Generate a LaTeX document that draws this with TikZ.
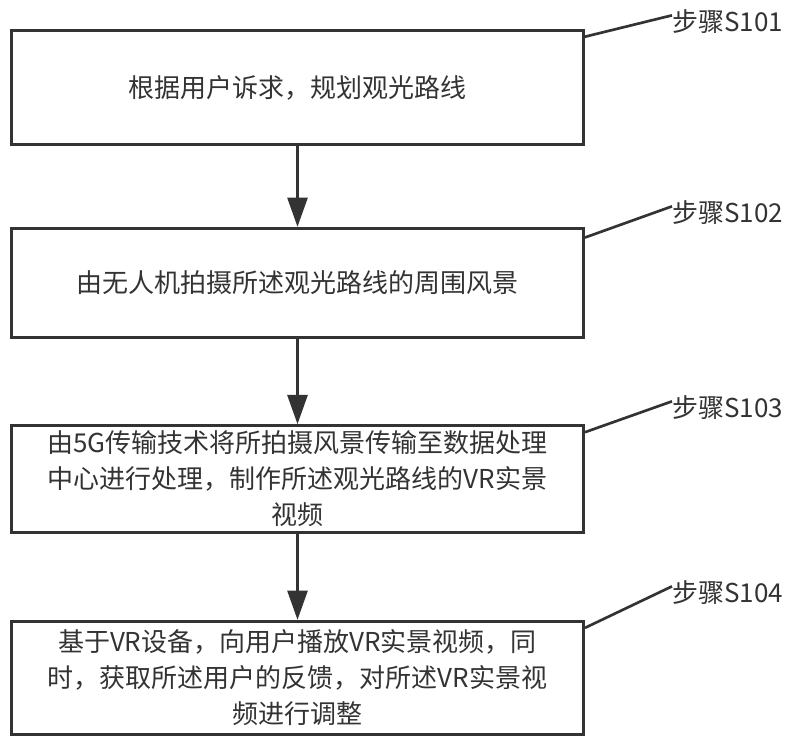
\documentclass[tikz,border=0pt]{standalone}
\usepackage{fontspec}
\setmainfont{Noto Sans CJK SC}
\usetikzlibrary{arrows.meta}
\definecolor{linegray}{HTML}{333333}
\tikzset{
  stepbox/.style={draw=linegray, line width=2.2pt, minimum width=429pt,
    align=center, text=linegray, font=\fontsize{19.5}{27}\selectfont},
  steplabel/.style={anchor=west, inner sep=0pt, text=linegray,
    font=\fontsize{19.5}{24}\selectfont},
  flow/.style={draw=linegray, line width=2.2pt, -{Triangle[length=22pt,width=15pt]}},
  lead/.style={draw=linegray, line width=2pt}
}
\begin{document}
\begin{tikzpicture}[x=0.75pt, y=-0.75pt]
    \useasboundingbox (0,0) rectangle (800,743);
    % steps
    \node[stepbox, minimum height=86pt] (b1) at (297.5,87.5) {根据用户诉求，规划观光路线};
    \node[stepbox, minimum height=82pt] (b2) at (297.5,283) {由无人机拍摄所述观光路线的周围风景};
    \node[stepbox, minimum height=80pt] (b3) at (297.5,479) {由5G传输技术将所拍摄风景传输至数据处理\\中心进行处理，制作所述观光路线的VR实景\\视频};
    \node[stepbox, minimum height=85pt] (b4) at (297.5,678) {基于VR设备，向用户播放VR实景视频，同\\时，获取所述用户的反馈，对所述VR实景视\\频进行调整};
    % labels
    \node[steplabel] (l1) at (672,22) {步骤S101};
    \node[steplabel] (l2) at (672,213) {步骤S102};
    \node[steplabel] (l3) at (672,408) {步骤S103};
    \node[steplabel] (l4) at (672,593) {步骤S104};
    \draw[lead] ([yshift=-6pt]b1.north east) -- ([yshift=5pt]l1.west);
    \draw[lead] ([yshift=-8pt]b2.north east) -- ([yshift=5pt]l2.west);
    \draw[lead] ([yshift=-6pt]b3.north east) -- ([yshift=5pt]l3.west);
    \draw[lead] ([yshift=-6pt]b4.north east) -- ([yshift=5pt]l4.west);
    % arrows
    \draw[flow] (b1) -- (b2);
    \draw[flow] (b2) -- (b3);
    \draw[flow] (b3) -- (b4);
\end{tikzpicture}
\end{document}
